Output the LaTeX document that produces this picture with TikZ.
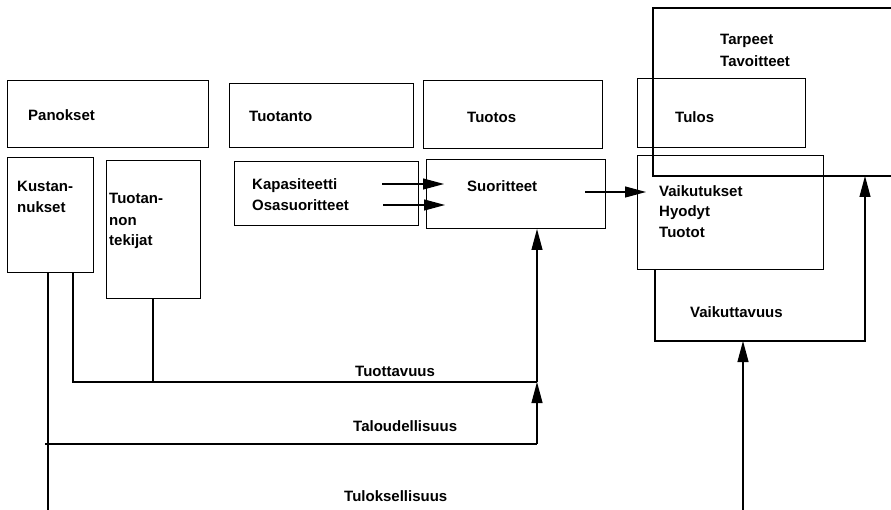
\documentclass[tikz,border=0pt]{standalone}
\usepackage{fontspec}
\setmainfont{Liberation Sans}
\usetikzlibrary{arrows.meta}
\begin{document}
\begin{tikzpicture}[x=1pt,y=-1pt,
  box/.style={draw,line width=1pt,anchor=north west,inner sep=0pt,outer sep=0pt},
  lbl/.style={anchor=base west,inner sep=0pt,font=\fontsize{15}{21}\selectfont\bfseries},
  ln/.style={line width=1.1pt},
  arr/.style={line width=1.1pt,-{Triangle[length=21pt,width=11pt]}}]
\useasboundingbox (0,0) rectangle (891,510);
% boxes
\node[box,minimum width=201pt,minimum height=67pt] (pan) at (7,81) {};
\node[box,minimum width=86pt,minimum height=115pt] (kus) at (7,158) {};
\node[box,minimum width=94pt,minimum height=138pt] (tek) at (106,161) {};
\node[box,minimum width=184pt,minimum height=64pt] (tuo) at (229,84) {};
\node[box,minimum width=184pt,minimum height=64pt] (kap) at (234,162) {};
\node[box,minimum width=179pt,minimum height=68pt] (tos) at (423,81) {};
\node[box,minimum width=179pt,minimum height=69pt] (suo) at (426,160) {};
\node[box,minimum width=168pt,minimum height=69pt] (tul) at (637,79) {};
\node[box,minimum width=186pt,minimum height=114pt] (vk) at (637,156) {};
% open box Tarpeet
\coordinate (tpA) at (891,8);
\coordinate (tpB) at (653,8);
\coordinate (tpC) at (653,176);
\coordinate (tpD) at (891,176);
\draw[ln] (tpA) -- (tpB) -- (tpC) -- (tpD);
% Vaikuttavuus
\coordinate (vaA) at (655,270);
\coordinate (vaB) at (655,341);
\coordinate (vaC) at (865,341);
\coordinate (vaD) at (865,176);
\draw[arr] (vaA) -- (vaB) -- (vaC) -- (vaD);
\coordinate (vbot) at (743,510);
\draw[arr] (vbot) -- (vaB -| vbot);
% left connectors
\coordinate (tA) at (73,273);
\coordinate (tB) at (73,382);
\coordinate (tC) at (537,382);
\draw[ln] (tA) -- (tB) -- (tC);
\draw[ln] (tek.south) -- (tek.south |- tB);
\draw[arr] (tC) -- (suo.south -| tC);
\coordinate (lA) at (45,444);
\coordinate (lB) at (537,444);
\draw[ln] (lA) -- (lB);
\draw[arr] (lB) -- (tC);
\coordinate (rA) at (48,273);
\coordinate (rB) at (48,510);
\draw[ln] (rA) -- (rB);
% arrows into Suoritteet and out
\coordinate (a1) at (382,184);
\coordinate (a2) at (383,205);
\draw[arr] (a1) -- ([xshift=18pt]suo.west |- a1);
\draw[arr] (a2) -- ([xshift=19pt]suo.west |- a2);
\coordinate (a3) at (585,192);
\draw[arr] (a3) -- ([xshift=9pt]vk.west |- a3);
% texts
\node[lbl] (xpan) at (28,121) {Panokset};
\node[lbl] (xkus1) at (17,192) {Kustan-};
\node[lbl] (xkus2) at (17,213) {nukset};
\node[lbl] (xtek1) at (109,204) {Tuotan-};
\node[lbl] (xtek2) at (109,226) {non};
\node[lbl] (xtek3) at (109,246) {tekijat};
\node[lbl] (xtuo) at (249,122) {Tuotanto};
\node[lbl] (xkap1) at (252,190) {Kapasiteetti};
\node[lbl] (xkap2) at (252,211) {Osasuoritteet};
\node[lbl] (xtos) at (467,123) {Tuotos};
\node[lbl] (xsuo) at (467,192) {Suoritteet};
\node[lbl] (xtul) at (675,123) {Tulos};
\node[lbl] (xtar1) at (720,45) {Tarpeet};
\node[lbl] (xtar2) at (720,67) {Tavoitteet};
\node[lbl] (xvk1) at (659,197) {Vaikutukset};
\node[lbl] (xvk2) at (659,217) {Hyodyt};
\node[lbl] (xvk3) at (659,238) {Tuotot};
\node[lbl] (xvaik) at (690,318) {Vaikuttavuus};
\node[lbl] (xtuot) at (355,376) {Tuottavuus};
\node[lbl] (xtal) at (353,431) {Taloudellisuus};
\node[lbl] (xtul2) at (344,501) {Tuloksellisuus};
\end{tikzpicture}
\end{document}
